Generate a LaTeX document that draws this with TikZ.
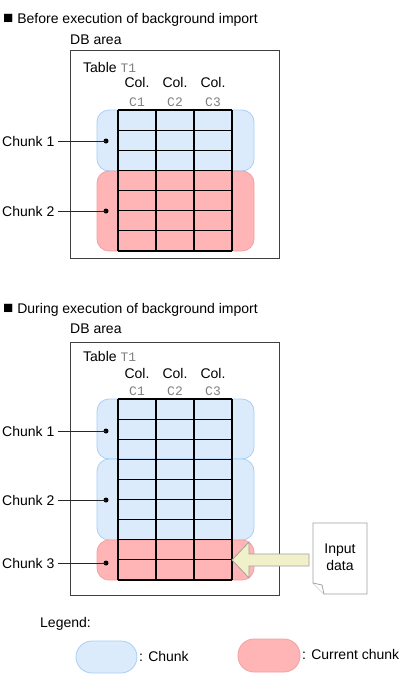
\documentclass[tikz,border=0pt]{standalone}
\usepackage{fontspec}
\setmainfont{Liberation Sans}
\setmonofont{Liberation Mono}
\definecolor{chunkfill}{HTML}{DCEBFB}
\definecolor{chunkdraw}{HTML}{A8CFF5}
\definecolor{curfill}{HTML}{FFB5B5}
\definecolor{curdraw}{HTML}{F4A0A0}
\definecolor{arrowfill}{HTML}{F1F1C9}
\definecolor{softgray}{HTML}{A0A0A0}
\definecolor{boxgray}{HTML}{404040}
\definecolor{monogray}{HTML}{808080}
\newcommand{\mtext}[1]{{\fontsize{13}{14}\selectfont\ttfamily\color{monogray}#1}}
\newcommand{\bsq}{{\fontsize{17}{17}\selectfont■}}
\begin{document}
\begin{tikzpicture}[x=1pt,y=-1pt,font=\fontsize{14}{17}\selectfont,
  chunk/.style={fill=chunkfill,draw=chunkdraw,line width=0.8pt,rounded corners=12pt},
  curchunk/.style={fill=curfill,draw=curdraw,line width=0.8pt,rounded corners=12pt},
  dbbox/.style={draw=boxgray,line width=1pt},
  gridline/.style={draw=black,line width=1.1pt},
  lbl/.style={inner sep=0pt,anchor=base west},
  ctr/.style={inner sep=0pt,anchor=base},
  leader/.style={draw=black!85,line width=0.8pt},
  dotmark/.style={circle,fill=black,inner sep=0pt,minimum size=5pt},
  docshape/.style={fill=white,draw=softgray,line width=0.8pt},
  bigarrow/.style={fill=arrowfill,draw=softgray,line width=0.8pt}]
\useasboundingbox (0,0) rectangle (404,677);

% ===== Top section =====
\node[lbl] (title1) at (3,24) {\bsq\ Before execution of background import};
\node[lbl] (db1) at (70,45) {DB area};
\draw[dbbox] (70,51) rectangle (279,258);
\node[lbl] (tab1) at (83,72) {Table \mtext{T1}};
\foreach \x/\c in {137/1,175/2,213/3}{
  \node[ctr] (colA\c) at (\x,88) {Col.};
  \node[ctr] (cA\c) at (\x,106) {\mtext{C\c}};
}
\draw[chunk] (97,110) rectangle (254,171);
\draw[curchunk] (97,171) rectangle (254,251);
\foreach \i in {0,...,7}{\draw[gridline] (118,110+\i*20.14) -- (232,110+\i*20.14);}
\foreach \x in {118,156,194,232}{\draw[gridline] (\x,110) -- (\x,251);}
\node[anchor=west,inner sep=0pt] (ch11) at (2,141) {Chunk 1};
\node[dotmark] (d11) at (106,141) {};
\draw[leader] (ch11.east)+(3,0) -- (d11.center);
\node[anchor=west,inner sep=0pt] (ch12) at (2,211) {Chunk 2};
\node[dotmark] (d12) at (106,211) {};
\draw[leader] (ch12.east)+(3,0) -- (d12.center);

% ===== Bottom section =====
\node[lbl] (title2) at (3,313) {\bsq\ During execution of background import};
\node[lbl] (db2) at (70,333) {DB area};
\draw[dbbox] (70,342) rectangle (279,595);
\node[lbl] (tab2) at (83,361) {Table \mtext{T1}};
\foreach \x/\c in {137/1,175/2,213/3}{
  \node[ctr] (colB\c) at (\x,378) {Col.};
  \node[ctr] (cB\c) at (\x,395) {\mtext{C\c}};
}
\draw[chunk] (97,399) rectangle (254,459);
\draw[chunk] (97,459) rectangle (254,540);
\draw[curchunk] (97,540) rectangle (254,580);
\foreach \i in {0,...,9}{\draw[gridline] (118,399+\i*20.11) -- (232,399+\i*20.11);}
\foreach \x in {118,156,194,232}{\draw[gridline] (\x,399) -- (\x,580);}
\node[anchor=west,inner sep=0pt] (ch21) at (2,431) {Chunk 1};
\node[dotmark] (d21) at (106,431) {};
\draw[leader] (ch21.east)+(3,0) -- (d21.center);
\node[anchor=west,inner sep=0pt] (ch22) at (2,500) {Chunk 2};
\node[dotmark] (d22) at (106,500) {};
\draw[leader] (ch22.east)+(3,0) -- (d22.center);
\node[anchor=west,inner sep=0pt] (ch23) at (2,563) {Chunk 3};
\node[dotmark] (d23) at (106,563) {};
\draw[leader] (ch23.east)+(3,0) -- (d23.center);

% input arrow
\draw[bigarrow] (232,560) -- (249,542) -- (249,554) -- (309,554) -- (309,566) -- (249,566) -- (249,578) -- cycle;
% document
\draw[docshape] (313,523) -- (367,523) -- (367,594) -- (324,594) -- (313,583) -- cycle;
\draw[docshape] (313,583) -- (322,585) -- (324,594);
\node[align=center,inner sep=0pt] (inp) at (340,557) {Input\\data};

% ===== Legend =====
\node[lbl] (leg) at (40,627) {Legend:};
\draw[chunk,rounded corners=16pt] (76,641) rectangle (137,673);
\node[anchor=west,inner sep=0pt] (legc) at (139,656) {: Chunk};
\draw[curchunk,rounded corners=16pt] (238,639) rectangle (300,672);
\node[anchor=west,inner sep=0pt] (legcc) at (302,654) {: Current chunk};
\end{tikzpicture}
\end{document}
